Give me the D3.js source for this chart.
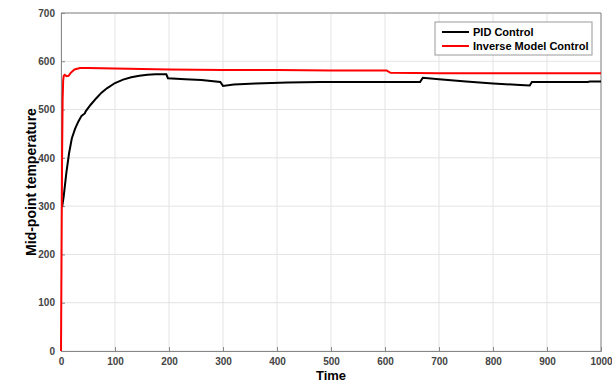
<!doctype html>
<html>
<head>
<meta charset="utf-8">
<script src="https://d3js.org/d3.v7.min.js"></script>
<style>
  body { margin: 0; background: #fff; }
  text { font-family: "Liberation Sans", Arial, sans-serif; }
</style>
</head>
<body>
<svg id="chart" width="612" height="385"></svg>
<script>
// PID control response (time, temperature)
const pidTime = [2, 5, 10, 15, 20, 26, 32, 38, 44, 46, 55, 65, 75, 85, 100, 115, 130, 145, 160, 175, 195, 198, 230, 260, 295, 300, 320, 360, 420, 480, 550, 600, 665, 670, 700, 750, 800, 850, 868, 872, 950, 975, 980, 1000];
const pidTemp = [298, 320, 370, 410, 440, 460, 475, 487, 492, 497, 510, 523, 535, 544, 555, 562, 567, 570, 572, 573, 573, 565, 563, 561, 557, 549, 552, 554, 556, 557, 557, 557, 557, 566, 563, 558, 554, 551, 550, 557, 557, 557, 558, 558];

// Inverse model control response
const imcTime = [0, 1, 2, 3, 4, 5, 7, 10, 14, 18, 25, 35, 50, 100, 200, 300, 400, 500, 603, 610, 700, 1000];
const imcTemp = [0, 200, 400, 520, 560, 570, 572, 569, 570, 576, 583, 586, 586, 585, 583, 582, 582, 581, 581, 576, 575, 575];

const xTicks = [0, 100, 200, 300, 400, 500, 600, 700, 800, 900, 1000];
const yTicks = [0, 100, 200, 300, 400, 500, 600, 700];
const seriesNames = ["PID Control", "Inverse Model Control"];
const seriesColors = ["#000000", "#ff0000"];

const svg = d3.select("#chart");
const mLeft = 61, mRight = 601, mTop = 13, mBottom = 351;

const x = d3.scaleLinear().domain([0, 1000]).range([mLeft, mRight]);
const y = d3.scaleLinear().domain([0, 700]).range([mBottom, mTop]);

// grid
svg.append("g")
  .selectAll("line")
  .data(xTicks)
  .join("line")
  .attr("x1", d => x(d)).attr("x2", d => x(d))
  .attr("y1", mTop).attr("y2", mBottom)
  .attr("stroke", "#e3e3e3").attr("stroke-width", 1);

svg.append("g")
  .selectAll("line")
  .data(yTicks)
  .join("line")
  .attr("x1", mLeft).attr("x2", mRight)
  .attr("y1", d => y(d)).attr("y2", d => y(d))
  .attr("stroke", "#e3e3e3").attr("stroke-width", 1);

// axes
const xAxis = svg.append("g")
  .attr("transform", `translate(0,${mBottom})`)
  .call(d3.axisBottom(x).tickValues(xTicks).tickFormat(d3.format("d")).tickSize(-4).tickPadding(7));
const yAxis = svg.append("g")
  .attr("transform", `translate(${mLeft},0)`)
  .call(d3.axisLeft(y).tickValues(yTicks).tickFormat(d3.format("d")).tickSize(-4).tickPadding(6));

[xAxis, yAxis].forEach(a => {
  a.select(".domain").attr("stroke", "#888");
  a.selectAll(".tick line").attr("stroke", "#888");
  a.selectAll(".tick text")
    .attr("fill", "#444")
    .style("font-size", "10px")
    .style("font-weight", "bold")
    .style("font-family", "Liberation Sans, Arial, sans-serif");
});

// box top/right
svg.append("line").attr("x1", mLeft).attr("x2", mRight).attr("y1", mTop).attr("y2", mTop).attr("stroke", "#888");
svg.append("line").attr("x1", mRight).attr("x2", mRight).attr("y1", mTop).attr("y2", mBottom).attr("stroke", "#888");

// lines
const line = d3.line().x(d => x(d[0])).y(d => y(d[1]));
const pidData = pidTime.map((t, i) => [t, pidTemp[i]]);
const imcData = imcTime.map((t, i) => [t, imcTemp[i]]);

svg.append("path").datum(pidData)
  .attr("d", line).attr("fill", "none")
  .attr("stroke", seriesColors[0]).attr("stroke-width", 2);
svg.append("path").datum(imcData)
  .attr("d", line).attr("fill", "none")
  .attr("stroke", seriesColors[1]).attr("stroke-width", 2);

// axis labels
svg.append("text")
  .attr("x", x(500)).attr("y", 380)
  .attr("text-anchor", "middle")
  .style("font-size", "13px").style("font-weight", "bold")
  .text("Time");
svg.append("text")
  .attr("transform", `translate(36,${(mTop + mBottom) / 2}) rotate(-90)`)
  .attr("text-anchor", "middle")
  .style("font-size", "14px").style("font-weight", "bold")
  .text("Mid-point temperature");

// legend
const lg = svg.append("g").attr("transform", "translate(435,22)");
lg.append("rect").attr("width", 157).attr("height", 33)
  .attr("fill", "#fff").attr("stroke", "#999");
seriesNames.forEach((name, i) => {
  const yy = 10 + i * 14;
  lg.append("line").attr("x1", 7).attr("x2", 34).attr("y1", yy).attr("y2", yy)
    .attr("stroke", seriesColors[i]).attr("stroke-width", 2);
  lg.append("text").attr("x", 38).attr("y", yy + 4)
    .style("font-size", "11px").style("font-weight", "bold")
    .text(name);
});
</script>
</body>
</html>
